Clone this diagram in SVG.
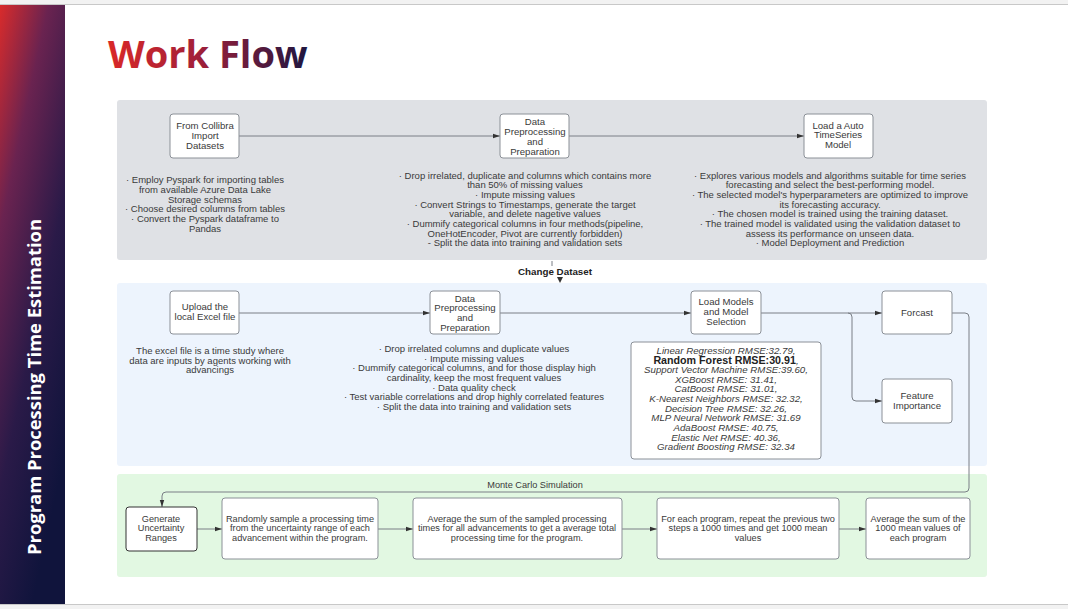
<svg xmlns="http://www.w3.org/2000/svg" width="1068" height="609" viewBox="0 0 1068 609">
<defs>
<linearGradient id="band" x1="0" y1="0" x2="0.5" y2="1">
<stop offset="0" stop-color="#d92b2b"/>
<stop offset="0.3" stop-color="#6a2350"/>
<stop offset="0.65" stop-color="#2a1a48"/>
<stop offset="1" stop-color="#10143c"/>
</linearGradient>
<linearGradient id="title" gradientUnits="userSpaceOnUse" x1="108" y1="0" x2="305" y2="0">
<stop offset="0" stop-color="#d92828"/>
<stop offset="0.45" stop-color="#a3203a"/>
<stop offset="1" stop-color="#221640"/>
</linearGradient>
<marker id="ah" markerWidth="8" markerHeight="6" refX="7" refY="3" orient="auto" markerUnits="userSpaceOnUse">
<path d="M0,0.8 L7,3 L0,5.2 Z" fill="#333"/>
</marker>
<style>
.panel{stroke:none}
.box{fill:#fff;stroke:#8b9097;stroke-width:1}
.t{font-family:"Liberation Sans",Arial,sans-serif;font-size:9.5px;fill:#3a3a3a;text-anchor:middle}
.n{font-family:"Liberation Sans",Arial,sans-serif;font-size:9.6px;fill:#3a3a3a;text-anchor:middle}
.m{font-family:"Liberation Sans",Arial,sans-serif;font-size:9.2px;fill:#3a3a3a;text-anchor:middle}
.r{font-family:"Liberation Sans",Arial,sans-serif;font-size:9.7px;fill:#3a3a3a;text-anchor:middle;font-style:italic}
.c{fill:none;stroke:#7a7f86;stroke-width:1}
</style>
</defs>
<rect x="0" y="0" width="1068" height="609" fill="#fff"/>
<rect x="0" y="0" width="1068" height="4" fill="#f2f2f2"/>
<line x1="0" y1="4.5" x2="1068" y2="4.5" stroke="#c8c8c8" stroke-width="1"/>
<line x1="0" y1="604.5" x2="1068" y2="604.5" stroke="#c8c8c8" stroke-width="1"/>
<rect x="0" y="605" width="1068" height="4" fill="#f2f2f2"/>
<rect x="0" y="5" width="65" height="599" fill="url(#band)"/>
<text transform="translate(41,387) rotate(-90)" font-family="'Open Sans',sans-serif" font-weight="bold" font-size="18.4" fill="#fff" text-anchor="middle">Program Processing Time Estimation</text>
<text x="108" y="68" font-family="'Open Sans',sans-serif" font-weight="bold" font-size="38" fill="url(#title)">Work Flow</text>

<rect class="panel" x="117" y="100" width="870" height="160" rx="3" fill="#dfe1e5"/>
<rect class="panel" x="117" y="283" width="870" height="183" rx="3" fill="#edf4fd"/>
<rect class="panel" x="117" y="474" width="870" height="103" rx="3" fill="#e2f8e2"/>

<g id="connectors">
<line class="c" x1="239" y1="136" x2="500" y2="136" marker-end="url(#ah)"/>
<line class="c" x1="569" y1="136" x2="804" y2="136" marker-end="url(#ah)"/>
<line class="c" x1="552" y1="261" x2="552" y2="266"/>
<path d="M557,277 L563,277 L560,283 Z" fill="#333"/>
<line class="c" x1="239" y1="313" x2="430" y2="313" marker-end="url(#ah)"/>
<line class="c" x1="500" y1="313" x2="691" y2="313" marker-end="url(#ah)"/>
<line class="c" x1="761" y1="313" x2="882" y2="313" marker-end="url(#ah)"/>
<path class="c" d="M848,313 Q852,313 852,317 L852,397 Q852,401 856,401 L882,401" marker-end="url(#ah)"/>
<path class="c" d="M952,313 L965,313 Q969,313 969,317 L969,488 Q969,492 965,492 L166,492 Q162,492 162,496 L162,507" marker-end="url(#ah)"/>
<line class="c" x1="197" y1="529" x2="222" y2="529" marker-end="url(#ah)"/>
<line class="c" x1="378" y1="529" x2="413" y2="529" marker-end="url(#ah)"/>
<line class="c" x1="622" y1="529" x2="657" y2="529" marker-end="url(#ah)"/>
<line class="c" x1="839" y1="529" x2="866" y2="529" marker-end="url(#ah)"/>
</g>

<g id="collibra">
<rect class="box" x="170" y="114" width="69" height="44" rx="3"/>
<text class="n" x="205" y="128.5">From Collibra</text>
<text class="n" x="205" y="138.5">Import</text>
<text class="n" x="205" y="148.5">Datasets</text>
<text class="t" x="205" y="182.5">· Employ Pyspark for importing tables</text>
<text class="t" x="205" y="192.5">from available Azure Data Lake</text>
<text class="t" x="205" y="202.5">Storage schemas</text>
<text class="t" x="205" y="212">· Choose desired columns from tables</text>
<text class="t" x="205" y="221.5">· Convert the Pyspark dataframe to</text>
<text class="t" x="205" y="231.5">Pandas</text>
</g>

<g id="prep-top">
<rect class="box" x="500" y="114" width="69" height="44" rx="3"/>
<text class="n" x="535" y="124.5">Data</text>
<text class="n" x="535" y="134.5">Preprocessing</text>
<text class="n" x="535" y="144.5">and</text>
<text class="n" x="535" y="154.5">Preparation</text>
<text class="t" x="525" y="178.5">· Drop irrelated, duplicate and columns which contains more</text>
<text class="t" x="525" y="188">than 50% of missing values</text>
<text class="t" x="525" y="197.5">· Impute missing values</text>
<text class="t" x="525" y="207.5">· Convert Strings to Timestamps, generate the target</text>
<text class="t" x="525" y="217">variable, and delete nagetive values</text>
<text class="t" x="525" y="226.5">· Dummify categorical columns in four methods(pipeline,</text>
<text class="t" x="525" y="236.5">OneHotEncoder, Pivot are currently forbidden)</text>
<text class="t" x="525" y="246">- Split the data into training and validation sets</text>
</g>

<g id="autots">
<rect class="box" x="804" y="114" width="69" height="44" rx="3"/>
<text class="n" x="838" y="128.5">Load a Auto</text>
<text class="n" x="838" y="138">TimeSeries</text>
<text class="n" x="838" y="148">Model</text>
<text class="t" x="830" y="178.5">· Explores various models and algorithms suitable for time series</text>
<text class="t" x="830" y="188">forecasting and select the best-performing model.</text>
<text class="t" x="830" y="197.5">· The selected model's hyperparameters are optimized to improve</text>
<text class="t" x="830" y="207.5">its forecasting accuracy.</text>
<text class="t" x="830" y="217">· The chosen model is trained using the training dataset.</text>
<text class="t" x="830" y="226.5">· The trained model is validated using the validation dataset to</text>
<text class="t" x="830" y="236.5">assess its performance on unseen data.</text>
<text class="t" x="830" y="246">· Model Deployment and Prediction</text>
</g>

<text x="555" y="274.5" font-family="'Liberation Sans',Arial,sans-serif" font-weight="bold" font-size="9.8px" fill="#222" text-anchor="middle">Change Dataset</text>

<g id="upload">
<rect class="box" x="170" y="291" width="69" height="43" rx="3"/>
<text class="n" x="205" y="310">Upload the</text>
<text class="n" x="205" y="320">local Excel file</text>
<text class="t" x="210" y="353.5">The excel file is a time study where</text>
<text class="t" x="210" y="363.5">data are inputs by agents working with</text>
<text class="t" x="210" y="373">advancings</text>
</g>

<g id="prep-blue">
<rect class="box" x="430" y="291" width="70" height="43" rx="3"/>
<text class="n" x="465" y="301.5">Data</text>
<text class="n" x="465" y="311">Preprocessing</text>
<text class="n" x="465" y="321">and</text>
<text class="n" x="465" y="330.5">Preparation</text>
<text class="t" x="474" y="351.5">· Drop irrelated columns and duplicate values</text>
<text class="t" x="474" y="361.5">· Impute missing values</text>
<text class="t" x="474" y="371">· Dummify categorical columns, and for those display high</text>
<text class="t" x="474" y="380.5">cardinality, keep the most frequent values</text>
<text class="t" x="474" y="390.5">· Data quality check</text>
<text class="t" x="474" y="400">· Test variable correlations and drop highly correlated features</text>
<text class="t" x="474" y="409.5">· Split the data into training and validation sets</text>
</g>

<g id="load-models">
<rect class="box" x="691" y="291" width="70" height="43" rx="3"/>
<text class="n" x="726" y="304.5">Load Models</text>
<text class="n" x="726" y="314.5">and Model</text>
<text class="n" x="726" y="324.5">Selection</text>
</g>

<g id="rmse">
<rect class="box" x="631" y="342" width="190" height="117" rx="3"/>
<text class="r" x="726" y="353.5">Linear Regression RMSE:32.79,</text>
<text x="726" y="363.5" font-family="'Liberation Sans',Arial,sans-serif" font-weight="bold" font-size="10.7px" fill="#222" text-anchor="middle">Random Forest RMSE:30.91<tspan font-weight="normal" font-size="9.7px" font-style="italic" fill="#3a3a3a">,</tspan></text>
<text class="r" x="726" y="372.5">Support Vector Machine RMSE:39.60,</text>
<text class="r" x="726" y="382.5">XGBoost RMSE: 31.41,</text>
<text class="r" x="726" y="392">CatBoost RMSE: 31.01,</text>
<text class="r" x="726" y="401.5">K-Nearest Neighbors RMSE: 32.32,</text>
<text class="r" x="726" y="411.5">Decision Tree RMSE: 32.26,</text>
<text class="r" x="726" y="421">MLP Neural Network RMSE: 31.69</text>
<text class="r" x="726" y="430.5">AdaBoost RMSE: 40.75,</text>
<text class="r" x="726" y="440.5">Elastic Net RMSE: 40.36,</text>
<text class="r" x="726" y="449.5">Gradient Boosting RMSE: 32.34</text>
</g>

<g id="forcast">
<rect class="box" x="882" y="291" width="70" height="43" rx="3"/>
<text class="n" x="917" y="315.5">Forcast</text>
</g>

<g id="feature">
<rect class="box" x="882" y="379" width="70" height="44" rx="3"/>
<text class="n" x="917" y="398.5">Feature</text>
<text class="n" x="917" y="408.5">Importance</text>
</g>

<text class="m" x="535" y="488">Monte Carlo Simulation</text>

<g id="generate">
<rect x="126" y="507" width="71" height="44" rx="3" fill="#fff" stroke="#333" stroke-width="1"/>
<text class="m" x="161" y="521.5">Generate</text>
<text class="m" x="161" y="531">Uncertainty</text>
<text class="m" x="161" y="540.5">Ranges</text>
</g>

<g id="sample">
<rect class="box" x="222" y="498" width="156" height="61" rx="3"/>
<text class="m" x="300" y="521.5">Randomly sample a processing time</text>
<text class="m" x="300" y="531">from the uncertainty range of each</text>
<text class="m" x="300" y="540.5">advancement within the program.</text>
</g>

<g id="average">
<rect class="box" x="413" y="498" width="209" height="61" rx="3"/>
<text class="m" x="517" y="521.5">Average the sum of the sampled processing</text>
<text class="m" x="517" y="531">times for all advancements to get a average total</text>
<text class="m" x="517" y="540.5">processing time for the program.</text>
</g>

<g id="repeat">
<rect class="box" x="657" y="498" width="182" height="61" rx="3"/>
<text class="m" x="748" y="521.5">For each program, repeat the previous two</text>
<text class="m" x="748" y="531">steps a 1000 times and get 1000 mean</text>
<text class="m" x="748" y="540.5">values</text>
</g>

<g id="final">
<rect class="box" x="866" y="498" width="104" height="61" rx="3"/>
<text class="m" x="918" y="521.5">Average the sum of the</text>
<text class="m" x="918" y="531">1000 mean values of</text>
<text class="m" x="918" y="540.5">each program</text>
</g>
</svg>
